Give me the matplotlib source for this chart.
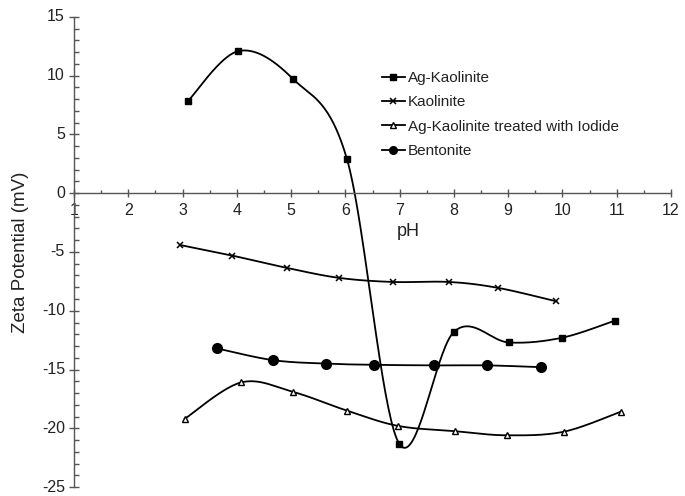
import numpy as np
import matplotlib
matplotlib.use("Agg")
import matplotlib.pyplot as plt
from matplotlib.lines import Line2D

plt.rcParams['font.family'] = ['Liberation Sans', 'DejaVu Sans']
plt.rcParams['axes.unicode_minus'] = False

# Data
ag_kao_x = [3.1, 4.03, 5.03, 6.03, 6.99, 8.0, 9.01, 9.99, 10.96]
ag_kao_y = [7.85, 12.1, 9.75, 2.9, -21.3, -11.8, -12.7, -12.3, -10.85]

kao_x = [2.95, 3.91, 4.92, 5.88, 6.87, 7.91, 8.81, 9.89]
kao_y = [-4.4, -5.3, -6.35, -7.2, -7.55, -7.55, -8.05, -9.2]

iod_x = [3.04, 4.08, 5.03, 6.03, 6.97, 8.02, 8.97, 10.02, 11.07]
iod_y = [-19.2, -16.1, -16.9, -18.5, -19.8, -20.25, -20.6, -20.3, -18.6]

ben_x = [3.63, 4.66, 5.64, 6.52, 7.63, 8.61, 9.60]
ben_y = [-13.2, -14.2, -14.5, -14.6, -14.65, -14.65, -14.8]

labels = ['Ag-Kaolinite', 'Kaolinite', 'Ag-Kaolinite treated with Iodide', 'Bentonite']


def smooth(xs, ys, n=40):
    """Catmull-Rom style smoothing (like spreadsheet 'smoothed line')."""
    x = np.asarray(xs, float)
    y = np.asarray(ys, float)
    px = np.concatenate([[x[0]], x, [x[-1]]])
    py = np.concatenate([[y[0]], y, [y[-1]]])
    outx, outy = [], []
    t = np.linspace(0, 1, n)
    for i in range(1, len(px) - 2):
        p0x, p1x, p2x, p3x = px[i - 1], px[i], px[i + 1], px[i + 2]
        p0y, p1y, p2y, p3y = py[i - 1], py[i], py[i + 1], py[i + 2]
        c1x = p1x + (p2x - p0x) / 6
        c1y = p1y + (p2y - p0y) / 6
        c2x = p2x - (p3x - p1x) / 6
        c2y = p2y - (p3y - p1y) / 6
        bx = (1 - t) ** 3 * p1x + 3 * (1 - t) ** 2 * t * c1x + 3 * (1 - t) * t ** 2 * c2x + t ** 3 * p2x
        by = (1 - t) ** 3 * p1y + 3 * (1 - t) ** 2 * t * c1y + 3 * (1 - t) * t ** 2 * c2y + t ** 3 * p2y
        outx.extend(bx)
        outy.extend(by)
    return outx, outy


fig = plt.figure(figsize=(6.85, 4.96), dpi=100)
ax = fig.add_axes([74 / 685, 1 - 487 / 496, (671 - 74) / 685, (487 - 17) / 496])

lw = 1.3
series = [
    (ag_kao_x, ag_kao_y, dict(marker='s', markersize=5, markerfacecolor='black', markeredgecolor='black')),
    (kao_x, kao_y, dict(marker='x', markersize=5, markeredgewidth=1.1, markeredgecolor='black')),
    (iod_x, iod_y, dict(marker='^', markersize=5, markerfacecolor='white', markeredgecolor='black', markeredgewidth=1.0)),
    (ben_x, ben_y, dict(marker='o', markersize=7, markerfacecolor='black', markeredgecolor='black')),
]
legend_sizes = [5, 5, 4.5, 5.5]

handles = []
for (xs, ys, mk), lab, ls in zip(series, labels, legend_sizes):
    sx, sy = smooth(xs, ys)
    ax.plot(sx, sy, color='black', lw=lw, zorder=2)
    ax.plot(xs, ys, linestyle='none', color='black', zorder=3, **mk)
    hmk = dict(mk)
    hmk['markersize'] = ls
    handles.append(Line2D([0], [0], color='black', lw=lw, **hmk))

ax.set_xlim(1, 12)
ax.set_ylim(-25, 15)

for s in ['top', 'right']:
    ax.spines[s].set_visible(False)
ax.spines['bottom'].set_position(('data', 0))
ax.spines['left'].set_position(('data', 1))
axis_color = '#555555'
for s in ['bottom', 'left']:
    ax.spines[s].set_color(axis_color)
    ax.spines[s].set_linewidth(1.0)

ax.set_xticks(np.arange(1, 13))
ax.set_xticks(np.arange(1.5, 12, 1), minor=True)
ax.set_yticks(np.arange(-25, 16, 5))
ax.set_yticks(np.arange(-25, 16, 1), minor=True)

ax.tick_params(axis='both', which='major', direction='inout', width=1.0,
               color=axis_color, labelsize=11.5, labelcolor='#222222')
ax.tick_params(axis='y', which='major', length=7, pad=3)
ax.tick_params(axis='x', which='major', length=6, pad=4)
ax.tick_params(axis='y', which='minor', direction='in', length=3.3, width=1.0, color=axis_color)
ax.tick_params(axis='x', which='minor', direction='in', length=2.5, width=1.0, color=axis_color)
for lbl in ax.get_yticklabels():
    lbl.set_verticalalignment('center')

ax.set_xlabel('pH', fontsize=13, color='#222222')
ax.xaxis.set_label_coords((408 - 74) / (671 - 74), (487 - 232) / (487 - 17), transform=ax.transAxes)
ax.xaxis.label.set_va('center')
ax.set_ylabel('Zeta Potential (mV)', fontsize=13.5, color='#222222')
ax.yaxis.set_label_coords(-(74 - 29) / (671 - 74), 0.5)

leg = fig.legend(handles, labels, loc='upper left', bbox_to_anchor=(382 / 685, 1 - 71 / 496),
                 frameon=False, fontsize=11, handlelength=1.5, handletextpad=0.2,
                 labelspacing=0.68, borderpad=0, borderaxespad=0)
for t in leg.get_texts():
    t.set_color('#222222')

fig.savefig('out.png', dpi=100)
